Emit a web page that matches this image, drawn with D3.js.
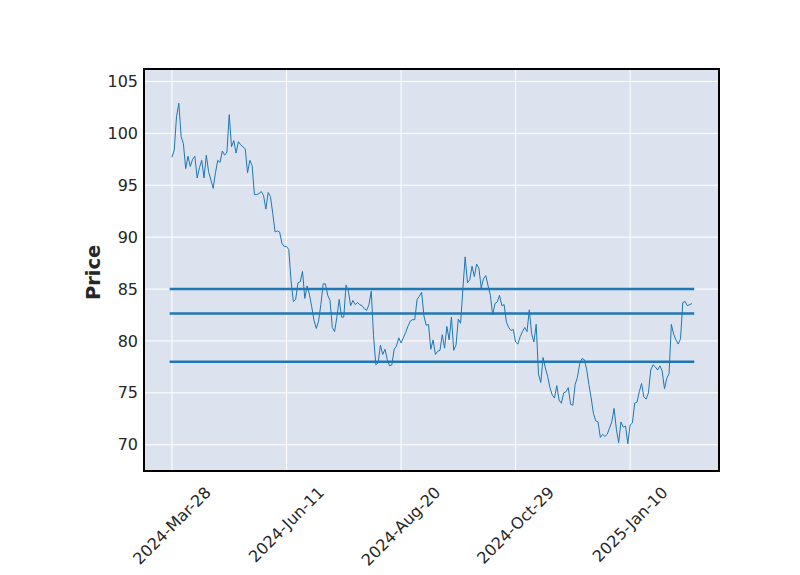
<!DOCTYPE html>
<html><head><meta charset="utf-8">
<script src="https://cdn.jsdelivr.net/npm/d3@7"></script>
<style>body{margin:0;background:#fff}</style>
</head><body><svg id="c" width="800" height="575"></svg>
<script>
const prices = [
 97.7, 98.4,101.6,102.9, 99.7, 99.0, 96.6, 97.8, 96.8, 97.5,
 97.8, 95.7, 96.7, 97.4, 95.7, 97.9, 96.3, 95.5, 94.7, 96.2,
 97.4, 97.2, 98.3, 97.9, 98.2,101.8, 98.7, 99.3, 98.1, 99.2,
 98.9, 98.7, 98.5, 96.2, 97.4, 96.9, 94.1, 94.1, 94.2, 94.4,
 94.0, 92.7, 94.3, 93.9, 92.3, 90.5, 90.6, 90.5, 89.4, 89.1,
 89.1, 88.8, 85.8, 83.8, 84.0, 85.6, 85.7, 86.7, 84.1, 85.3,
 84.5, 83.3, 82.0, 81.2, 81.9, 83.5, 85.5, 85.5, 84.4, 83.9,
 81.3, 80.9, 82.3, 84.0, 82.3, 82.3, 85.4, 84.8, 83.4, 83.9,
 83.5, 83.7, 83.5, 83.4, 83.1, 82.95,83.5, 84.8, 80.5, 77.7,
 77.9, 79.6, 78.7, 79.2, 78.2, 77.6, 77.7, 79.2, 79.5, 80.3,
 79.8, 80.3, 80.8, 81.4, 81.9, 82.05,82.05,84.0, 84.3, 84.7,
 82.4, 81.5, 81.6, 79.2, 80.1, 78.7, 79.0, 79.1, 80.6, 79.3,
 81.4, 80.1, 82.3, 79.1, 79.6, 82.1, 81.7, 85.0, 88.1, 85.6,
 85.9, 87.2, 86.2, 87.4, 87.0, 85.1, 86.0, 86.3, 85.3, 84.4,
 82.5, 83.6, 83.75,84.4, 83.4, 83.5, 81.8, 81.3, 81.0, 81.1,
 79.9, 79.7, 80.4, 80.9, 81.3, 80.9, 83.0, 80.7, 79.9, 81.6,
 76.8, 76.0, 78.4, 77.4, 76.6, 75.5, 74.8, 74.5, 75.7, 74.3,
 74.0, 75.0, 75.1, 75.5, 73.9, 73.8, 75.8, 76.5, 77.8, 78.3,
 78.2, 77.3, 75.8, 74.5, 73.0, 72.3, 72.2, 70.7, 71.0, 70.8,
 71.0, 71.6, 72.2, 73.5, 71.5, 70.2, 72.2, 71.7, 71.8, 70.1,
 71.9, 72.1, 74.0, 74.1, 75.1, 75.9, 74.6, 74.4, 75.0, 77.2,
 77.7, 77.5, 77.2, 77.6, 77.1, 75.4, 76.4, 76.85,81.6, 80.65,
 80.1, 79.7, 80.2, 83.7, 83.8, 83.4, 83.5, 83.6
];
const tickIndex = [0, 50, 100, 150, 200];
const tickLabels = ["2024-Mar-28", "2024-Jun-11", "2024-Aug-20", "2024-Oct-29", "2025-Jan-10"];
const yTicks = [70, 75, 80, 85, 90, 95, 100, 105];
const levels = [85.0, 82.65, 78.0];

const FONT = "'DejaVu Sans', sans-serif";
const BLUE = "#1f77b4";
const svg = d3.select("#c");
const L = 144, R = 719, T = 69, B = 471;
const n = prices.length;

const x = d3.scaleLinear().domain([-12.2, (n - 1) + 11.8]).range([L, R]);
const y = d3.scaleLinear().domain([67.47, 106.2]).range([B, T]);

svg.append("rect").attr("x", L).attr("y", T).attr("width", R - L).attr("height", B - T)
  .attr("fill", "#dce3ef");

const clip = svg.append("clipPath").attr("id", "pc");
clip.append("rect").attr("x", L).attr("y", T).attr("width", R - L).attr("height", B - T);

const g = svg.append("g").attr("clip-path", "url(#pc)");

g.selectAll(".gy").data(yTicks).join("line")
  .attr("x1", L).attr("x2", R).attr("y1", d => y(d)).attr("y2", d => y(d))
  .attr("stroke", "#fff").attr("stroke-width", 1);
g.selectAll(".gx").data(tickIndex).join("line")
  .attr("x1", d => x(d)).attr("x2", d => x(d)).attr("y1", T).attr("y2", B)
  .attr("stroke", "#fff").attr("stroke-width", 1);

const line = d3.line().x((d, i) => x(i)).y(d => y(d));
g.append("path").datum(prices).attr("d", line)
  .attr("fill", "none").attr("stroke", BLUE).attr("stroke-width", 1)
  .attr("stroke-linejoin", "round");

g.selectAll(".lv").data(levels).join("line")
  .attr("x1", x(-1)).attr("x2", x(n)).attr("y1", d => y(d)).attr("y2", d => y(d))
  .attr("stroke", BLUE).attr("stroke-width", 2.5);

svg.append("rect").attr("x", L).attr("y", T).attr("width", R - L).attr("height", B - T)
  .attr("fill", "none").attr("stroke", "#000").attr("stroke-width", 2);

const ya = svg.append("g").attr("transform", `translate(${L},0)`)
  .call(d3.axisLeft(y).tickValues(yTicks).tickSize(0).tickPadding(6));
ya.select(".domain").remove();
ya.selectAll("text").attr("font-family", FONT).attr("font-size", "16px").attr("fill", "#262626");

const xl = svg.append("g");
tickIndex.forEach((ti, k) => {
  const t = xl.append("text").text(tickLabels[k])
    .attr("font-family", FONT).attr("font-size", "16px").attr("fill", "#262626")
    .attr("text-anchor", "middle").attr("dominant-baseline", "central");
  const len = t.node().getComputedTextLength();
  const h = 16 * 1.17;
  const cy = 483 + (len + h) * Math.SQRT1_2 / 2;
  t.attr("transform", `translate(${x(ti)},${cy}) rotate(-45)`);
});

svg.append("text").text("Price")
  .attr("font-family", FONT).attr("font-size", "19.4px").attr("font-weight", "bold")
  .attr("fill", "#262626").attr("text-anchor", "middle").attr("dominant-baseline", "central")
  .attr("transform", `translate(93,272.5) rotate(-90)`);
</script></body></html>
